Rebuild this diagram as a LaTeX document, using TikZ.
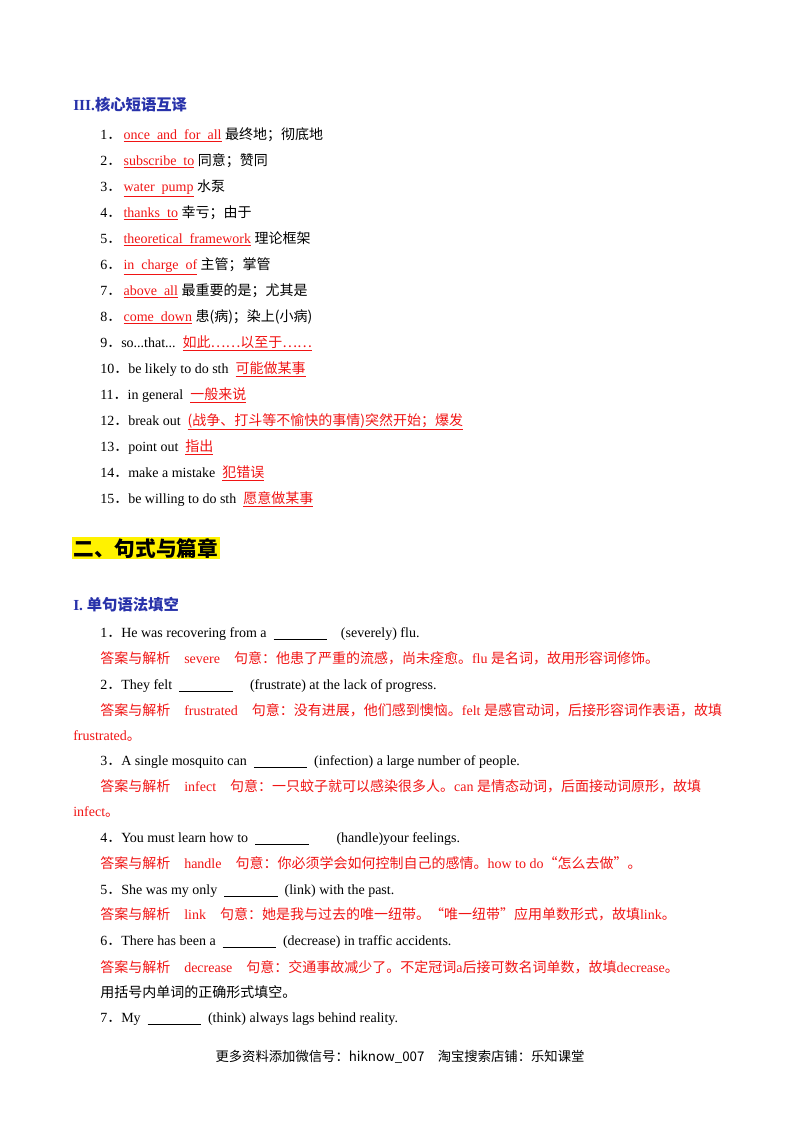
\documentclass[tikz,border=0pt]{standalone}
\usepackage{fontspec}
\setmainfont{Liberation Serif}
\newfontfamily\cjk{Noto Sans CJK SC}
\usepackage{xcolor}
\usetikzlibrary{positioning}
\definecolor{headblue}{RGB}{40,50,170}
\definecolor{ansred}{RGB}{240,20,20}
\newcommand{\zh}[1]{{\cjk #1}}
\newcommand{\blank}{\underline{\hspace{40pt}}}
\newcommand{\sothat}{so...that...}
\begin{document}
\begin{tikzpicture}[x=0.75pt, y=-0.75pt,
    txt/.style={anchor=base west, inner sep=0pt, font=\fontsize{10.5}{12}\selectfont},
    ans/.style={txt, text=ansred},
    head/.style={anchor=base west, inner sep=0pt, text=headblue, font=\fontsize{11.5}{13}\selectfont\bfseries}]
  \useasboundingbox (0,0) rectangle (800,1132);

  % Part III heading
  \node[head] (h3) at (73,110) {III.\zh{\bfseries 核心短语互译}};

  % phrases, English given in red
  \foreach \n/\en/\cn [count=\i] in {
      1/once\ \ and\ \ for\ \ all/最终地；彻底地,
      2/subscribe\ \ to/同意；赞同,
      3/water\ \ pump/水泵,
      4/thanks\ \ to/幸亏；由于,
      5/theoretical\ \ framework/理论框架,
      6/in\ \ charge\ \ of/主管；掌管,
      7/above\ \ all/最重要的是；尤其是,
      8/come\ \ down/患(病)；染上(小病)} {
    \node[txt] (p\n) at (100,{139+26*(\i-1)}) {\n\zh{．}\,\textcolor{ansred}{\underline{\en}}\ \zh{\cn}};
  }
  % phrases, Chinese given in red
  \foreach \n/\en/\cn [count=\i] in {
      9/\sothat/如此……以至于……,
      10/be likely to do sth/可能做某事,
      11/in general/一般来说,
      12/break out/(战争、打斗等不愉快的事情)突然开始；爆发,
      13/point out/指出,
      14/make a mistake/犯错误,
      15/be willing to do sth/愿意做某事} {
    \node[txt] (p\n) at (100,{347+26*(\i-1)}) {\n\zh{．}\en\ \ \textcolor{ansred}{\underline{\zh{\cn}}}};
  }

  % Part two heading
  \node[anchor=base west, inner sep=1pt, fill=yellow, font=\fontsize{15.5}{17}\selectfont\bfseries] (h2) at (72,556) {\zh{\bfseries 二、句式与篇章}};
  \node[head] (h1) at (73,610) {I.\ \zh{\bfseries 单句语法填空}};

  % sentences and answers
  \node[txt] (s1) at (100,637) {1\zh{．}He was recovering from a \ \blank\quad (severely) flu.};
  \node[ans] (a1) at (100,663) {\zh{答案与解析}\quad severe\quad \zh{句意：他患了严重的流感，尚未痊愈。}flu \zh{是名词，故用形容词修饰。}};
  \node[txt] (s2) at (100,689) {2\zh{．}They felt \ \blank\quad\ (frustrate) at the lack of progress.};
  \node[ans] (a2) at (100,715) {\zh{答案与解析}\quad frustrated\quad \zh{句意：没有进展，他们感到懊恼。}felt \zh{是感官动词，后接形容词作表语，故填}};
  \node[ans] (a2b) at (73,740) {frustrated\zh{。}};
  \node[txt] (s3) at (100,765) {3\zh{．}A single mosquito can \ \blank\ \ (infection) a large number of people.};
  \node[ans] (a3) at (100,791) {\zh{答案与解析}\quad infect\quad \zh{句意：一只蚊子就可以感染很多人。}can \zh{是情态动词，后面接动词原形，故填}};
  \node[ans] (a3b) at (73,816) {infect\zh{。}};
  \node[txt] (s4) at (100,842) {4\zh{．}You must learn how to \ \blank\qquad(handle)your feelings.};
  \node[ans] (a4) at (100,868) {\zh{答案与解析}\quad handle\quad \zh{句意：你必须学会如何控制自己的感情。}how to do\zh{“怎么去做”。}};
  \node[txt] (s5) at (100,894) {5\zh{．}She was my only \ \blank\ \ (link) with the past.};
  \node[ans] (a5) at (100,919) {\zh{答案与解析}\quad link\quad \zh{句意：她是我与过去的唯一纽带。“唯一纽带”应用单数形式，故填}link\zh{。}};
  \node[txt] (s6) at (100,945) {6\zh{．}There has been a \ \blank\ \ (decrease) in traffic accidents.};
  \node[ans] (a6) at (100,972) {\zh{答案与解析}\quad decrease\quad \zh{句意：交通事故减少了。不定冠词}a\zh{后接可数名词单数，故填}decrease\zh{。}};
  \node[txt] (n7) at (100,997) {\zh{用括号内单词的正确形式填空。}};
  \node[txt] (s7) at (100,1022) {7\zh{．}My \ \blank\ \ (think) always lags behind reality.};

  % footer
  \node[anchor=base, inner sep=0pt, font=\fontsize{10}{12}\selectfont\cjk] (foot) at (400,1061) {更多资料添加微信号：hiknow\_007\quad 淘宝搜索店铺：乐知课堂};
\end{tikzpicture}
\end{document}
